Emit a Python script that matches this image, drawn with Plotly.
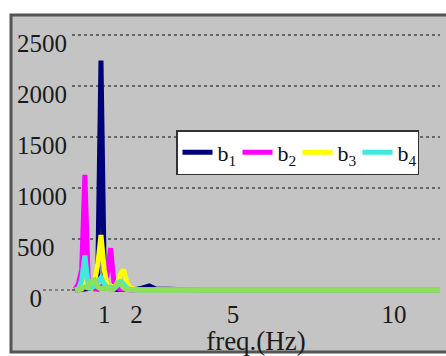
import plotly.graph_objects as go

# frequency axis (Hz)
freq = [0.1, 0.2, 0.3, 0.4, 0.5, 0.6, 0.7, 0.8, 0.9, 1.0, 1.1, 1.2, 1.3, 1.4, 1.5,
        1.6, 1.7, 1.8, 1.9, 2.0, 2.2, 2.4, 2.6, 3.0, 4.0, 5.0, 6.0, 7.0, 8.0, 9.0,
        10.0, 11.0, 11.5]

b1 = [0, 0, 5, 10, 15, 20, 40, 150, 2250, 150, 40, 20, 10, 5, 5,
      5, 10, 15, 10, 5, 20, 40, 10, 5, 0, 0, 0, 0, 0, 0,
      0, 0, 0]
b2 = [10, 60, 200, 1130, 120, 30, 10, 5, 20, 60, 160, 410, 80, 20, 10,
      5, 5, 0, 0, 0, 0, 0, 0, 0, 0, 0, 0, 0, 0, 0,
      0, 0, 0]
b3 = [0, 0, 10, 60, 30, 20, 80, 250, 540, 200, 30, 40, 20, 60, 150,
      200, 80, 20, 5, 0, 0, 0, 0, 0, 0, 0, 0, 0, 0, 0,
      0, 0, 0]
b4 = [0, 10, 100, 340, 60, 20, 40, 80, 120, 60, 20, 30, 10, 40, 80,
      60, 20, 5, 0, 0, 0, 0, 0, 0, 0, 0, 0, 0, 0, 0,
      0, 0, 0]
b5 = [0, 5, 20, 30, 20, 90, 100, 30, 10, 20, 10, 5, 20, 70, 60,
      20, 5, 0, 0, 0, 0, 0, 0, 0, 0, 0, 0, 0, 0, 0,
      0, 0, 0]

series = [
    ("b<sub>1</sub>", b1, "#00007a", True),
    ("b<sub>2</sub>", b2, "#ff00ff", True),
    ("b<sub>3</sub>", b3, "#ffff00", True),
    ("b<sub>4</sub>", b4, "#40e8e0", True),
    ("b<sub>5</sub>", b5, "#8ee05a", False),
]

y_ticks = [0, 500, 1000, 1500, 2000, 2500]
y_text = ["0&nbsp;&nbsp;&nbsp;&nbsp;", "500&nbsp;&nbsp;", "1000", "1500", "2000", "2500"]
x_ticks = [1, 2, 5, 10]
x_text = ["1", "2", "5", "10"]

FONT = "Liberation Serif, Times New Roman, Times, serif"

L, R, T, B = 72, 440, 17, 297   # plot area in pixels
PW, PH = R - L, B - T

fig = go.Figure()
for name, vals, col, show in series:
    fig.add_trace(go.Scatter(x=freq, y=vals, mode="lines", name=name,
                             line=dict(color=col, width=5),
                             showlegend=show))

fig.update_layout(
    width=446, height=356,
    margin=dict(l=L, r=446 - R, t=T, b=356 - B, autoexpand=False),
    paper_bgcolor="white",
    plot_bgcolor="rgba(0,0,0,0)",
    font=dict(family=FONT, size=24, color="#1a1a1a"),
    showlegend=True,
    legend=dict(orientation="h", x=(176 - L) / PW, y=(B - 130) / PH,
                xanchor="left", yanchor="top",
                bgcolor="white", bordercolor="#333333", borderwidth=1.5,
                font=dict(family=FONT, size=22, color="#111111"),
                entrywidth=15, entrywidthmode="pixels",
                itemwidth=30, tracegroupgap=0),
    shapes=[
        dict(type="rect", xref="paper", yref="paper",
             x0=(11 - L) / PW, x1=(470 - L) / PW,
             y0=(B - 352) / PH, y1=(B - 15) / PH,
             fillcolor="#c4c4c4", line=dict(color="#555555", width=3),
             layer="below"),
        dict(type="line", xref="paper", yref="y",
             x0=(43 - L) / PW, x1=0, y0=0, y1=0,
             line=dict(color="#666666", width=1.5, dash="dot")),
    ],
)

fig.update_xaxes(range=[0, 11.43], tickvals=x_ticks, ticktext=x_text,
                 showgrid=False, zeroline=False, showline=False, ticks="",
                 automargin=False, tickfont=dict(size=25),
                 title=dict(text="freq.(Hz)", font=dict(size=27), standoff=0))
fig.update_yaxes(range=[-(B - 290) / 0.102, (290 - T) / 0.102],
                 tickvals=y_ticks, ticktext=y_text,
                 showgrid=True, gridcolor="#666666", gridwidth=1.5, griddash="dot",
                 zeroline=False, showline=False, ticks="", automargin=False,
                 ticklabelshift=8, ticklabelstandoff=4, tickfont=dict(size=25))

fig.write_html("out.html",
               config={"displayModeBar": False},
               post_script="document.body.style.margin='0px';")
